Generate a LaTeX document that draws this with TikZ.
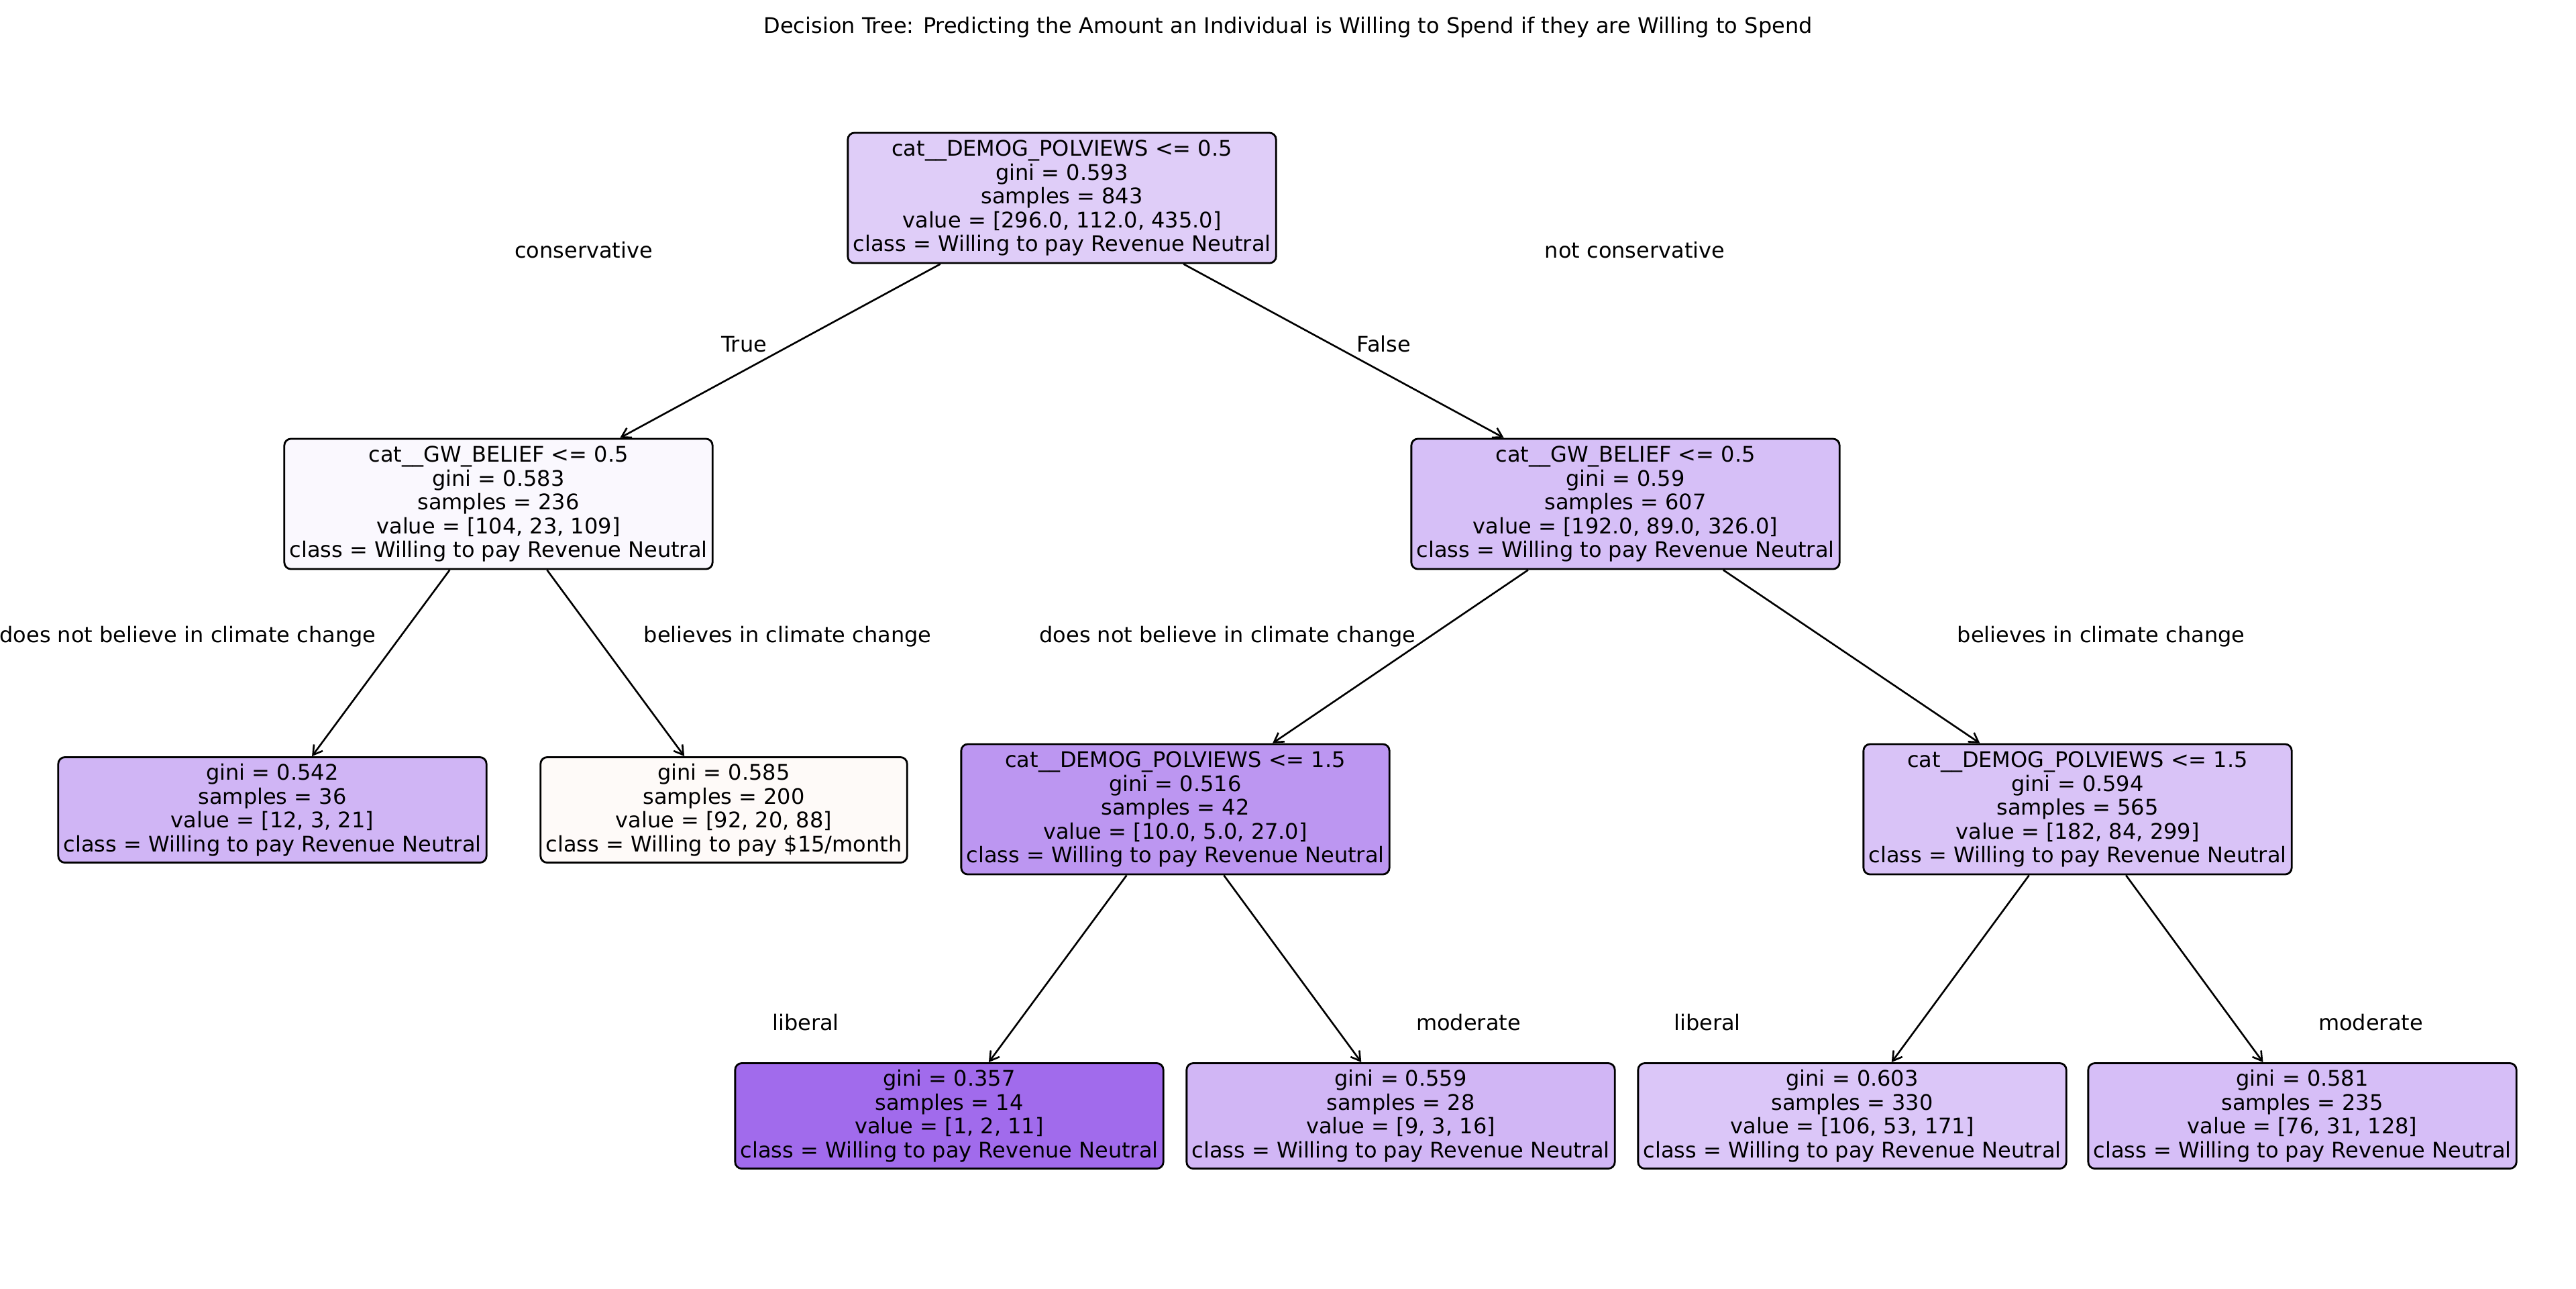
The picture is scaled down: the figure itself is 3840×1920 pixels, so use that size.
\documentclass[tikz,border=0pt]{standalone}
\usepackage{fontspec}
\setmainfont{DejaVu Sans}
\usetikzlibrary{arrows.meta}
\definecolor{cRoot}{RGB}{223,205,248}
\definecolor{cAL}{RGB}{250,248,254}
\definecolor{cAR}{RGB}{214,191,247}
\definecolor{cLL}{RGB}{208,181,245}
\definecolor{cLR}{RGB}{254,250,248}
\definecolor{cMid}{RGB}{188,150,241}
\definecolor{cRN}{RGB}{217,195,247}
\definecolor{cBa}{RGB}{161,107,236}
\definecolor{cBb}{RGB}{209,182,245}
\definecolor{cBc}{RGB}{219,198,248}
\definecolor{cBd}{RGB}{214,190,247}
\begin{document}
\begin{tikzpicture}[x=0.01cm,y=-0.01cm,
  tnode/.style={draw=black, line width=0.8pt, rounded corners=2.8pt, align=center,
    inner xsep=2.2pt, inner ysep=1pt, font=\fontsize{9.1}{10.1}\selectfont},
  split/.style={tnode, minimum height=1.94cm},
  leaf/.style={tnode, minimum height=1.57cm},
  lbl/.style={font=\fontsize{9.1}{10.1}\selectfont, inner sep=0pt},
  edge/.style={line width=0.75pt, -{Straight Barb[length=3.8pt,width=4.6pt]}}]
\useasboundingbox[fill=white] (0,0) rectangle (3840,1920);

\node[lbl] (title) at (1920,41) {Decision Tree: Predicting the Amount an Individual is Willing to Spend if they are Willing to Spend};

\node[split, fill=cRoot] (root) at (1583,295) {cat\_\_DEMOG\_POLVIEWS <= 0.5\\gini = 0.593\\samples = 843\\value = [296.0, 112.0, 435.0]\\class = Willing to pay Revenue Neutral};

\node[split, fill=cAL] (al) at (743,751) {cat\_\_GW\_BELIEF <= 0.5\\gini = 0.583\\samples = 236\\value = [104, 23, 109]\\class = Willing to pay Revenue Neutral};
\node[split, fill=cAR] (ar) at (2423,751) {cat\_\_GW\_BELIEF <= 0.5\\gini = 0.59\\samples = 607\\value = [192.0, 89.0, 326.0]\\class = Willing to pay Revenue Neutral};

\node[leaf, fill=cLL] (ll) at (406,1207) {gini = 0.542\\samples = 36\\value = [12, 3, 21]\\class = Willing to pay Revenue Neutral};
\node[leaf, fill=cLR] (lr) at (1079,1207) {gini = 0.585\\samples = 200\\value = [92, 20, 88]\\class = Willing to pay \$15/month};
\node[split, fill=cMid] (mid) at (1752,1206) {cat\_\_DEMOG\_POLVIEWS <= 1.5\\gini = 0.516\\samples = 42\\value = [10.0, 5.0, 27.0]\\class = Willing to pay Revenue Neutral};
\node[split, fill=cRN] (rn) at (3097,1206) {cat\_\_DEMOG\_POLVIEWS <= 1.5\\gini = 0.594\\samples = 565\\value = [182, 84, 299]\\class = Willing to pay Revenue Neutral};

\node[leaf, fill=cBa] (ba) at (1415,1663) {gini = 0.357\\samples = 14\\value = [1, 2, 11]\\class = Willing to pay Revenue Neutral};
\node[leaf, fill=cBb] (bb) at (2088,1663) {gini = 0.559\\samples = 28\\value = [9, 3, 16]\\class = Willing to pay Revenue Neutral};
\node[leaf, fill=cBc] (bc) at (2761,1663) {gini = 0.603\\samples = 330\\value = [106, 53, 171]\\class = Willing to pay Revenue Neutral};
\node[leaf, fill=cBd] (bd) at (3432,1663) {gini = 0.581\\samples = 235\\value = [76, 31, 128]\\class = Willing to pay Revenue Neutral};

\draw[edge] (root) -- (al);
\draw[edge] (root) -- (ar);
\draw[edge] (al) -- (ll);
\draw[edge] (al) -- (lr);
\draw[edge] (ar) -- (mid);
\draw[edge] (ar) -- (rn);
\draw[edge] (mid) -- (ba);
\draw[edge] (mid) -- (bb);
\draw[edge] (rn) -- (bc);
\draw[edge] (rn) -- (bd);

\node[lbl] (tTrue) at (1109,513) {True};
\node[lbl] (tFalse) at (2063,513) {False};
\node[lbl] (tcons) at (870,373) {conservative};
\node[lbl] (tncons) at (2437,373) {not conservative};
\node[lbl] (tdnb1) at (280,949) {does not believe in climate change};
\node[lbl] (tb1) at (1174,949) {believes in climate change};
\node[lbl] (tdnb2) at (1830,949) {does not believe in climate change};
\node[lbl] (tb2) at (3132,949) {believes in climate change};
\node[lbl] (tlib1) at (1201,1524) {liberal};
\node[lbl] (tmod1) at (2189,1524) {moderate};
\node[lbl] (tlib2) at (2545,1524) {liberal};
\node[lbl] (tmod2) at (3534,1524) {moderate};
\end{tikzpicture}
\end{document}
